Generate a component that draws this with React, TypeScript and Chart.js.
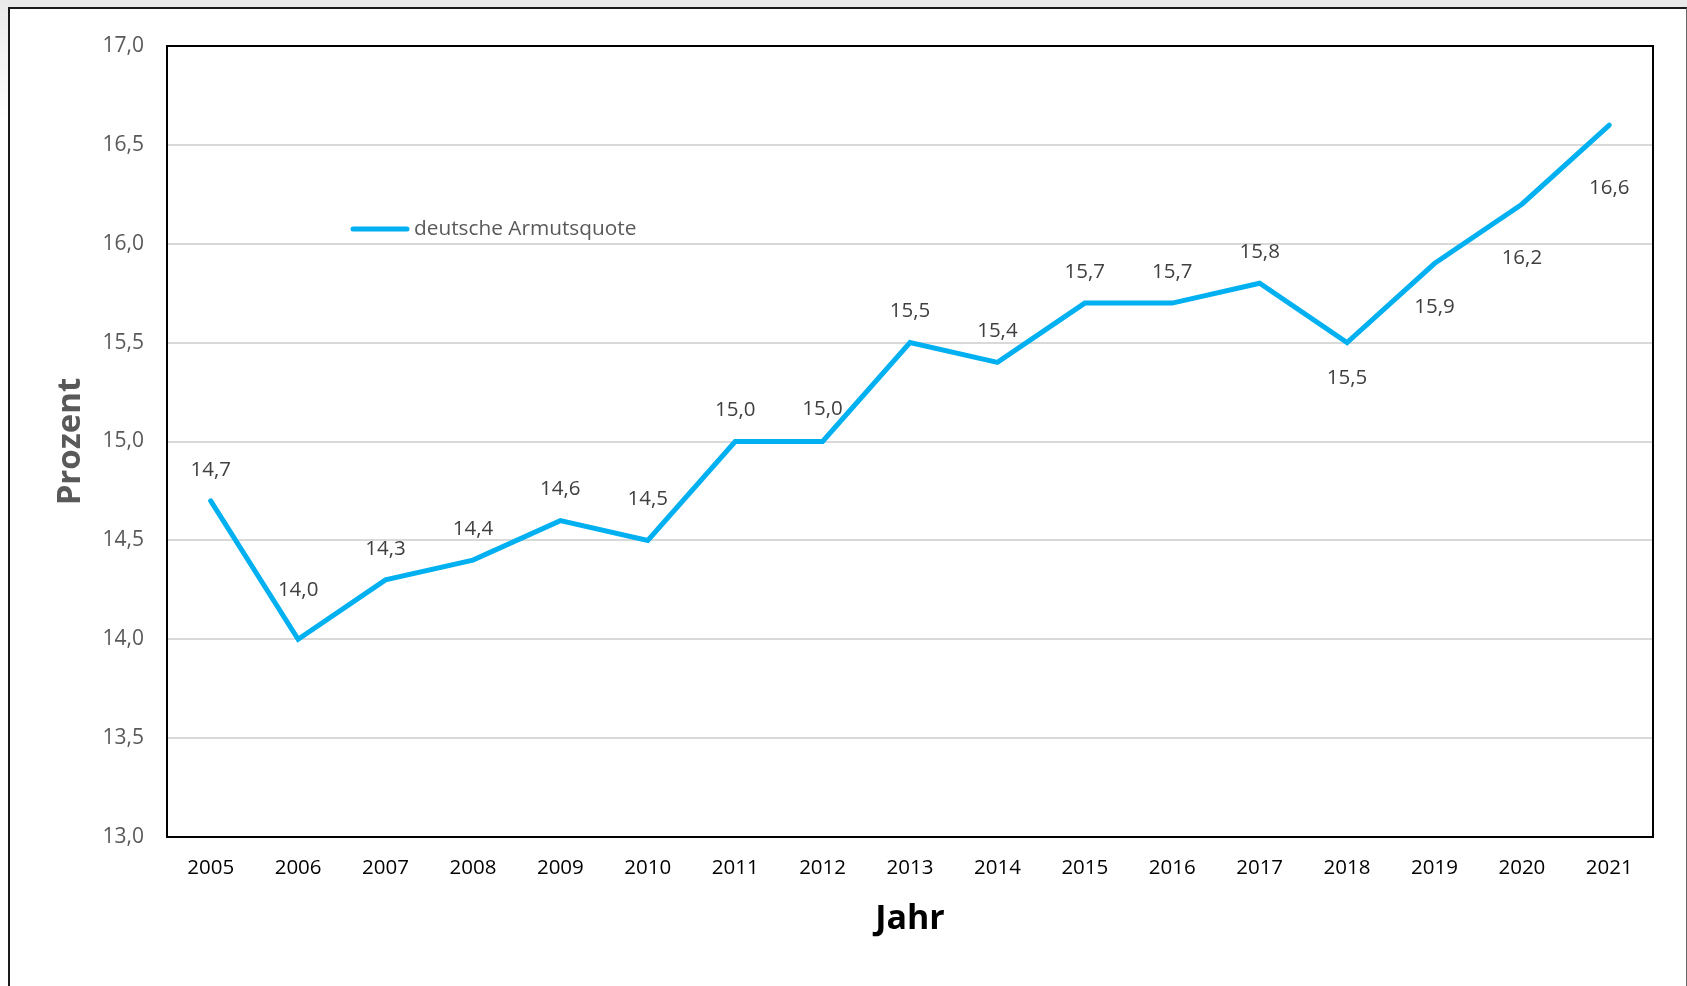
import React, { useEffect, useRef } from "react";
import { Chart, registerables } from "chart.js";

Chart.register(...registerables);

const years = ["2005", "2006", "2007", "2008", "2009", "2010", "2011", "2012", "2013", "2014", "2015", "2016", "2017", "2018", "2019", "2020", "2021"];
const armutsquote = [14.7, 14.0, 14.3, 14.4, 14.6, 14.5, 15.0, 15.0, 15.5, 15.4, 15.7, 15.7, 15.8, 15.5, 15.9, 16.2, 16.6];
const seriesName = "deutsche Armutsquote";
const yMin = 13;
const yMax = 17;
const yStep = 0.5;
const xTitle = "Jahr";
const yTitle = "Prozent";

// label placement (style): vertical offset of each value label from its point
const labelOffsets = [-31, -49, -31, -31, -31, -41, -31, -32, -31, -31, -31, -31, -31, 36, 44, 54, 63];

const FONT = "'Open Sans', 'Noto Sans', sans-serif";
const LINE_COLOR = "#00B0F0";

const fmt = (v: number) => v.toFixed(1).replace(".", ",");

export default function App() {
  const ref = useRef<HTMLCanvasElement | null>(null);

  useEffect(() => {
    if (!ref.current) return;
    const frame = {
      id: "frame",
      beforeDatasetsDraw(chart: any) {
        const { ctx, chartArea: a } = chart;
        ctx.save();
        ctx.strokeStyle = "#000";
        ctx.lineWidth = 2;
        ctx.strokeRect(a.left, a.top, a.right - a.left, a.bottom - a.top);
        ctx.restore();
      },
    };
    const labels = {
      id: "valueLabels",
      afterDatasetsDraw(chart: any) {
        const { ctx, chartArea: a } = chart;
        const meta = chart.getDatasetMeta(0);
        ctx.save();
        ctx.font = `20.5px ${FONT}`;
        ctx.fillStyle = "#404040";
        ctx.textAlign = "center";
        ctx.textBaseline = "middle";
        meta.data.forEach((pt: any, i: number) => {
          ctx.fillText(fmt(armutsquote[i]), pt.x, pt.y + labelOffsets[i]);
        });
        // legend
        const lx = a.left + 186;
        const ly = a.top + 183;
        ctx.strokeStyle = LINE_COLOR;
        ctx.lineWidth = 5;
        ctx.lineCap = "round";
        ctx.beginPath();
        ctx.moveTo(lx, ly);
        ctx.lineTo(lx + 54, ly);
        ctx.stroke();
        ctx.fillStyle = "#595959";
        ctx.textAlign = "left";
        ctx.font = `20.8px ${FONT}`;
        ctx.fillText(seriesName, lx + 61, ly);
        ctx.restore();
      },
    };
    const chart = new Chart(ref.current, {
      type: "line",
      data: {
        labels: years,
        datasets: [
          {
            label: seriesName,
            data: armutsquote,
            borderColor: LINE_COLOR,
            backgroundColor: LINE_COLOR,
            borderWidth: 5,
            pointRadius: 0,
            tension: 0,
            borderCapStyle: "round",
            borderJoinStyle: "miter",
          },
        ],
      },
      options: {
        animation: false,
        responsive: false,
        maintainAspectRatio: false,
        devicePixelRatio: 1,
        layout: { padding: { top: 46, right: 34, left: 0, bottom: 0 } },
        plugins: {
          legend: { display: false },
          tooltip: { enabled: false },
        },
        scales: {
          x: {
            type: "category",
            offset: true,
            grid: { display: false, drawTicks: false },
            border: { display: false },
            ticks: {
              color: "#000",
              font: { family: FONT, size: 20.5 },
              padding: 19,
              maxRotation: 0,
              autoSkip: false,
            },
            title: {
              display: true,
              text: xTitle,
              color: "#000",
              font: { family: FONT, size: 34, weight: "bold" },
              padding: { top: 0, bottom: 46 },
            },
            afterFit(scale: any) {
              scale.height = 149;
            },
          },
          y: {
            min: yMin,
            max: yMax,
            grid: {
              drawTicks: false,
              lineWidth: 2,
              color: (c: any) => (c.tick && (c.tick.value === yMin || c.tick.value === yMax) ? "rgba(0,0,0,0)" : "#d9d9d9"),
            },
            border: { display: false },
            ticks: {
              stepSize: yStep,
              color: "#595959",
              font: { family: FONT, size: 21 },
              padding: 23,
              callback: (v: any) => fmt(Number(v)),
            },
            title: {
              display: true,
              text: yTitle,
              color: "#595959",
              font: { family: FONT, size: 33, weight: "bold" },
              padding: { top: 51, bottom: 0 },
            },
            afterFit(scale: any) {
              scale.width = 167;
            },
          },
        },
      },
      plugins: [frame, labels],
    });
    return () => chart.destroy();
  }, []);

  return (
    <div style={{ position: "fixed", left: 0, top: 0, width: 1687, height: 986, background: "#fff", overflow: "hidden" }}>
      <div style={{ position: "absolute", left: 0, top: 0, width: 1687, height: 8, background: "#e9e9e9" }} />
      <div style={{ position: "absolute", left: 0, top: 0, width: 8, height: 120, background: "linear-gradient(#e9e9e9, #fff)" }} />
      <div
        style={{
          position: "absolute",
          left: 8,
          top: 7,
          width: 1676,
          height: 1000,
          background: "#fff",
          borderLeft: "2px solid #1a1a1a",
          borderTop: "2px solid #1a1a1a",
          borderRight: "1px solid #666",
        }}
      />
      <canvas ref={ref} width={1687} height={986} style={{ position: "absolute", left: 0, top: 0, width: 1687, height: 986 }} />
    </div>
  );
}
